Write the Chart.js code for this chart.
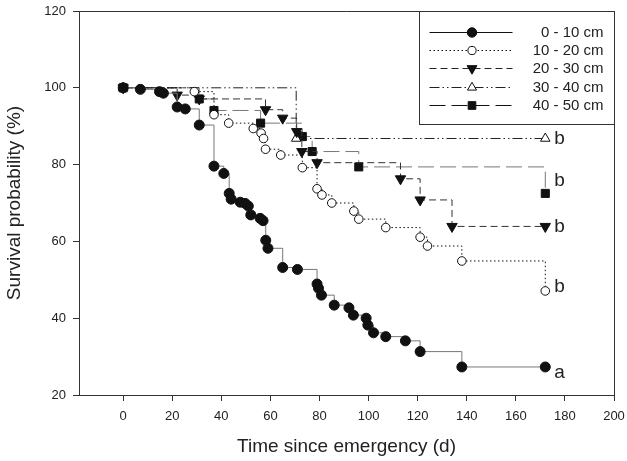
<!DOCTYPE html>
<html>
<head>
<meta charset="utf-8">
<script src="https://cdn.jsdelivr.net/npm/chart.js@4.4.1/dist/chart.umd.min.js"></script>
<style>
  html, body { margin: 0; padding: 0; background: #fff; }
  #wrap { width: 627px; height: 461px; }
</style>
</head>
<body>
<div id="wrap"><canvas id="c" width="627" height="461"></canvas></div>
<script>
// depth classes
const depthLabels = ['0 - 10 cm', '10 - 20 cm', '20 - 30 cm', '30 - 40 cm', '40 - 50 cm'];
const groupLetters = ['a', 'b', 'b', 'b', 'b'];

// time since emergency (d) and survival probability (%) per class
const days0 = [0, 7, 14.8, 16.4, 22, 25.3, 31, 37, 41, 43.2, 44, 47.7, 49.7, 51, 52, 55.8, 57, 58.1, 59, 65, 71, 79, 79.6, 80.8, 86, 92, 93.8, 99, 99.7, 102, 107, 115, 121, 138, 172];
const surv0 = [100, 99.6, 99, 98.6, 95, 94.5, 90.3, 79.6, 77.7, 72.5, 71, 70.2, 69.9, 69.2, 66.9, 66, 65.4, 60.3, 58.2, 53.2, 52.7, 48.9, 47.8, 46, 43.4, 42.7, 40.8, 40, 38.2, 36.2, 35.2, 34.1, 31.3, 27.3, 27.3];

const days1 = [0, 29, 37, 43, 53, 56.2, 57.2, 58, 64.2, 73, 79, 81, 85, 94, 96, 107, 121, 124, 138, 172];
const surv1 = [100, 99, 93, 90.8, 89.4, 88.2, 86.8, 84, 82.5, 79.2, 73.7, 72.1, 70, 67.9, 65.8, 63.6, 61.1, 58.8, 54.9, 47.1];

const days2 = [0, 22, 31, 58, 65, 70.7, 72.8, 79, 113, 121, 134, 172];
const surv2 = [100, 98.1, 97.1, 94.3, 92.1, 88.6, 83.4, 80.5, 76.3, 70.8, 63.9, 63.9];

const days3 = [0, 70.5, 172];
const surv3 = [100, 86.8, 86.8];

const days4 = [0, 31, 37, 56, 73, 77, 96, 172];
const surv4 = [100, 97.1, 94.1, 90.8, 87.3, 83.4, 79.4, 72.5];

const xTicks = [0, 20, 40, 60, 80, 100, 120, 140, 160, 180, 200];

const FONT = 'Liberation Sans, Arial, Helvetica, sans-serif';

function pts(xs, ys) {
  return xs.map((x, i) => ({ x: x, y: ys[i] }));
}

// line / marker look per class
const styles = [
  { line: '#777', legendLine: '#111', dash: [], pointStyle: 'circle', radius: 5, fill: '#111', rot: 0 },
  { line: '#111', legendLine: '#111', dash: [1.5, 2.5], pointStyle: 'circle', radius: 4.3, fill: '#fff', rot: 0 },
  { line: '#333', legendLine: '#222', dash: [7, 4], pointStyle: 'triangle', radius: 6, fill: '#111', rot: 180 },
  { line: '#222', legendLine: '#222', dash: [10, 3, 1.5, 3, 1.5, 3], pointStyle: 'triangle', radius: 5.5, fill: '#fff', rot: 0 },
  { line: '#777', legendLine: '#111', dash: [16, 6], pointStyle: 'rect', radius: 5.7, fill: '#111', rot: 0 }
];

const series = [pts(days0, surv0), pts(days1, surv1), pts(days2, surv2), pts(days3, surv3), pts(days4, surv4)];

function drawMarker(ctx, st, x, y) {
  ctx.save();
  ctx.setLineDash([]);
  ctx.lineWidth = 1;
  ctx.strokeStyle = '#111';
  ctx.fillStyle = st.fill;
  const r = st.radius;
  ctx.beginPath();
  if (st.pointStyle === 'circle') {
    ctx.arc(x, y, r, 0, Math.PI * 2);
  } else if (st.pointStyle === 'rect') {
    const s = r * Math.SQRT1_2;
    ctx.rect(x - s, y - s, 2 * s, 2 * s);
  } else {
    const d = st.rot ? -1 : 1;
    ctx.moveTo(x, y - d * r);
    ctx.lineTo(x + r * 0.866, y + d * r * 0.5);
    ctx.lineTo(x - r * 0.866, y + d * r * 0.5);
    ctx.closePath();
  }
  ctx.fill();
  ctx.stroke();
  ctx.restore();
}

const frameAndNotes = {
  id: 'frameAndNotes',
  afterDraw(chart) {
    const { ctx, chartArea } = chart;
    const { left, right, top, bottom } = chartArea;
    ctx.save();
    // box around the plot
    ctx.strokeStyle = '#333';
    ctx.lineWidth = 1;
    ctx.beginPath();
    ctx.moveTo(left, top + 0.5);
    ctx.lineTo(right + 0.5, top + 0.5);
    ctx.lineTo(right + 0.5, bottom);
    ctx.stroke();

    // end letters
    const yOff = [6, -4, 0, 0, -13];
    ctx.fillStyle = '#222';
    ctx.font = '19px ' + FONT;
    ctx.textBaseline = 'middle';
    ctx.textAlign = 'left';
    chart.data.datasets.forEach((ds, i) => {
      const meta = chart.getDatasetMeta(i);
      const p = meta.data[meta.data.length - 1];
      ctx.fillText(groupLetters[i], p.x + 9, p.y + yOff[i]);
    });

    // legend box
    const bw = 195, bh = 113;
    const bx = right - bw + 0.5, by = top + 0.5;
    ctx.fillStyle = '#fff';
    ctx.fillRect(bx, by, bw, bh);
    ctx.strokeStyle = '#333';
    ctx.strokeRect(bx, by, bw, bh);
    ctx.font = '15px ' + FONT;
    ctx.textAlign = 'right';
    depthLabels.forEach((lab, i) => {
      const st = styles[i];
      const y = by + 20 + i * 18.4;
      ctx.save();
      ctx.strokeStyle = st.legendLine;
      ctx.lineWidth = 1;
      ctx.setLineDash(st.dash);
      ctx.beginPath();
      ctx.moveTo(bx + 10, Math.round(y) + 0.5);
      ctx.lineTo(bx + 93, Math.round(y) + 0.5);
      ctx.stroke();
      ctx.restore();
      drawMarker(ctx, Object.assign({}, st, { radius: st.radius * 0.95 }), bx + 52.5, Math.round(y) + 0.5);
      ctx.fillStyle = '#222';
      ctx.fillText(lab, bx + bw - 11, y + 1);
    });
    ctx.restore();
  }
};

new Chart(document.getElementById('c'), {
  type: 'line',
  data: {
    datasets: series.map((d, i) => ({
      label: depthLabels[i],
      data: d,
      stepped: true,
      borderColor: styles[i].line,
      borderWidth: 1,
      borderDash: styles[i].dash,
      pointStyle: styles[i].pointStyle,
      pointRotation: styles[i].rot,
      pointRadius: styles[i].radius,
      pointBackgroundColor: styles[i].fill,
      pointBorderColor: '#111',
      pointBorderWidth: 1,
      fill: false
    }))
  },
  options: {
    responsive: false,
    animation: false,
    events: [],
    layout: { padding: { left: 0, top: 11, right: 13, bottom: 0 } },
    plugins: {
      legend: { display: false },
      tooltip: { enabled: false }
    },
    scales: {
      x: {
        type: 'linear',
        min: -18,
        max: 200,
        afterBuildTicks: (s) => { s.ticks = xTicks.map(v => ({ value: v })); },
        afterFit: (s) => { s.height = 66; s.paddingLeft = 0; s.paddingRight = 0; },
        grid: { display: true, drawOnChartArea: false, drawTicks: true, tickLength: 6, color: '#333' },
        border: { display: true, color: '#333' },
        ticks: { color: '#222', font: { family: FONT, size: 13 }, padding: 8, maxRotation: 0 },
        title: { display: true, text: 'Time since emergency (d)', color: '#222', font: { family: FONT, size: 19 }, padding: { top: 0, bottom: 3 } }
      },
      y: {
        min: 20,
        max: 120,
        afterFit: (s) => { s.width = 79; s.paddingTop = 0; s.paddingBottom = 0; },
        grid: { display: true, drawOnChartArea: false, drawTicks: true, tickLength: 6, color: '#333' },
        border: { display: true, color: '#333' },
        ticks: { stepSize: 20, color: '#222', font: { family: FONT, size: 13 }, padding: 7 },
        title: { display: true, text: 'Survival probability (%)', color: '#222', font: { family: FONT, size: 19 }, padding: { top: 3, bottom: 0 } }
      }
    }
  },
  plugins: [frameAndNotes]
});
</script>
</body>
</html>
